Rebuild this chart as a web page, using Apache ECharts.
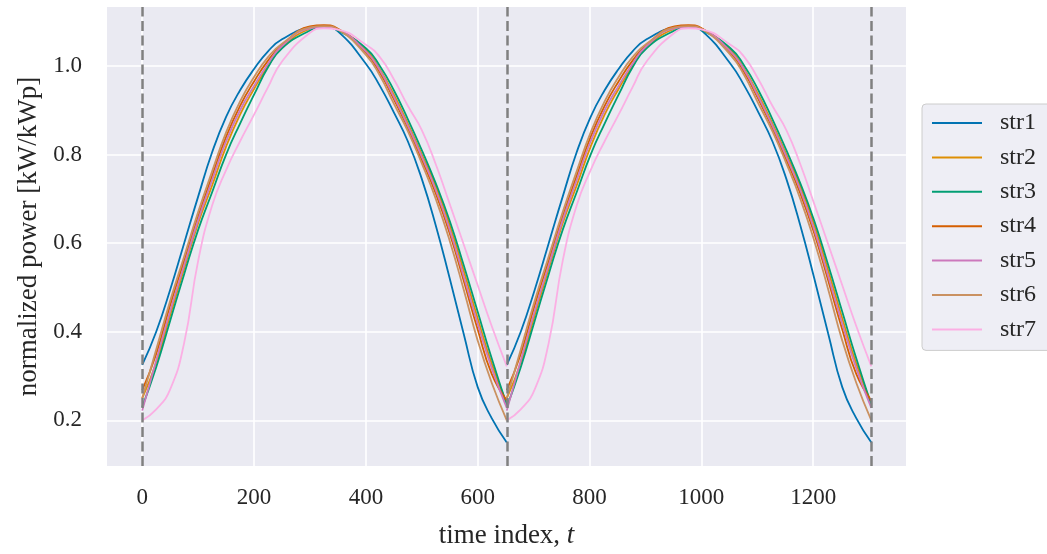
<!DOCTYPE html>
<html>
<head>
<meta charset="utf-8">
<script src="https://cdn.jsdelivr.net/npm/echarts@6/dist/echarts.min.js"></script>
<style>
html,body{margin:0;padding:0;background:#fff;}
#chart{width:1047px;height:554px;}
</style>
</head>
<body>
<div id="chart"></div>
<script>
// time index within one day (sample positions)
const T_DAY = [0,25,50,75,100,125,150,175,200,225,250,300,325,350,400,425,450,475,500,525,550,575,600,625,652];
// start of each day on the time axis
const DAY_STARTS = [0, 652];
// dashed day boundaries
const BOUNDARIES = [0, 652, 1304];
const X_TICKS = [0, 200, 400, 600, 800, 1000, 1200];
const Y_TICKS = [0.2, 0.4, 0.6, 0.8, 1.0];
const NAMES = ['str1','str2','str3','str4','str5','str6','str7'];

const str1 = [0.325,0.40,0.495,0.60,0.705,0.805,0.885,0.945,0.993,1.033,1.06,1.087,1.09,1.078,1.005,0.955,0.895,0.83,0.745,0.64,0.52,0.395,0.275,0.205,0.15];
const str2 = [0.25,0.33,0.438,0.543,0.645,0.73,0.818,0.89,0.948,1.0,1.043,1.084,1.09,1.083,1.036,0.992,0.935,0.87,0.80,0.728,0.64,0.537,0.43,0.328,0.238];
const str3 = [0.23,0.32,0.425,0.53,0.63,0.715,0.80,0.87,0.935,0.997,1.04,1.08,1.088,1.08,1.04,1.0,0.945,0.88,0.81,0.735,0.65,0.55,0.445,0.34,0.235];
const str4 = [0.268,0.35,0.46,0.56,0.66,0.752,0.84,0.91,0.965,1.012,1.047,1.089,1.092,1.084,1.03,0.985,0.925,0.86,0.788,0.712,0.622,0.515,0.405,0.305,0.245];
const str5 = [0.222,0.335,0.447,0.55,0.652,0.742,0.83,0.90,0.955,1.005,1.045,1.085,1.088,1.082,1.033,0.99,0.93,0.865,0.795,0.72,0.63,0.525,0.418,0.318,0.228];
const str6 = [0.25,0.36,0.47,0.57,0.67,0.762,0.85,0.92,0.975,1.02,1.05,1.087,1.09,1.082,1.025,0.978,0.915,0.853,0.78,0.70,0.605,0.495,0.38,0.285,0.2];
const str7 = [0.20,0.225,0.27,0.375,0.56,0.685,0.765,0.83,0.89,0.952,1.01,1.075,1.085,1.082,1.048,1.02,0.97,0.91,0.855,0.778,0.688,0.597,0.505,0.413,0.322];

const VALUES = [str1,str2,str3,str4,str5,str6,str7];
const COLORS = ['#0173B2','#DE8F05','#029E73','#D55E00','#CC78BC','#CA9161','#FBAFE4'];

const FONT = 'Liberation Serif';

const series = [];
NAMES.forEach((name, k) => {
  DAY_STARTS.forEach(d0 => {
    series.push({
      name: name,
      type: 'line',
      data: T_DAY.map((t, i) => [t + d0, VALUES[k][i]]),
      smooth: 0.5,
      showSymbol: false,
      symbol: 'none',
      color: COLORS[k],
      lineStyle: { width: 1.8, color: COLORS[k] },
      z: 2,
      silent: true,
      animation: false
    });
  });
});
series.push({
  type: 'line',
  data: [],
  z: 5,
  silent: true,
  animation: false,
  markLine: {
    silent: true,
    symbol: ['none','none'],
    label: { show: false },
    animation: false,
    lineStyle: { color: '#808080', type: [10, 4.5], width: 2.5 },
    emphasis: { disabled: true },
    data: BOUNDARIES.map(x => ({ xAxis: x }))
  }
});

const chart = echarts.init(document.getElementById('chart'), null, { renderer: 'canvas' });
chart.setOption({
  animation: false,
  backgroundColor: '#ffffff',
  grid: {
    left: 107, right: 141, top: 7, bottom: 88,
    show: true, backgroundColor: '#EAEAF2', borderWidth: 0
  },
  xAxis: {
    type: 'value',
    min: -63, max: 1366,
    name: '{n|time index, }{i|t}',
    nameLocation: 'middle',
    nameGap: 56,
    nameTextStyle: {
      rich: {
        n: { fontFamily: FONT, fontSize: 27, color: '#262626' },
        i: { fontFamily: FONT, fontSize: 27, fontStyle: 'italic', color: '#262626' }
      }
    },
    axisLine: { show: false },
    axisTick: { show: false, customValues: X_TICKS },
    axisLabel: {
      customValues: X_TICKS,
      formatter: v => String(v),
      fontFamily: FONT, fontSize: 23, color: '#262626', margin: 20
    },
    splitLine: { show: true, lineStyle: { color: '#ffffff', width: 1.6 } }
  },
  yAxis: {
    type: 'value',
    min: 0.097, max: 1.133,
    name: 'normalized power [kW/kWp]',
    nameLocation: 'middle',
    nameGap: 62,
    nameTextStyle: { fontFamily: FONT, fontSize: 27, color: '#262626' },
    axisLine: { show: false },
    axisTick: { show: false, customValues: Y_TICKS },
    axisLabel: {
      customValues: Y_TICKS,
      formatter: v => v.toFixed(1),
      fontFamily: FONT, fontSize: 23, color: '#262626', margin: 25
    },
    splitLine: { show: true, lineStyle: { color: '#ffffff', width: 1.6 } }
  },
  legend: {
    data: NAMES,
    orient: 'vertical',
    left: 922, top: 104,
    icon: 'rect',
    itemWidth: 50, itemHeight: 2,
    itemGap: 10.4,
    padding: [7, 30, 9, 10],
    backgroundColor: 'rgba(234,234,242,0.8)',
    borderColor: '#cccccc',
    borderWidth: 1,
    borderRadius: 4,
    selectedMode: false,
    textStyle: { fontFamily: FONT, fontSize: 24, color: '#262626', lineHeight: 24, padding: [0,0,0,13] }
  },
  series: series
});
</script>
</body>
</html>
